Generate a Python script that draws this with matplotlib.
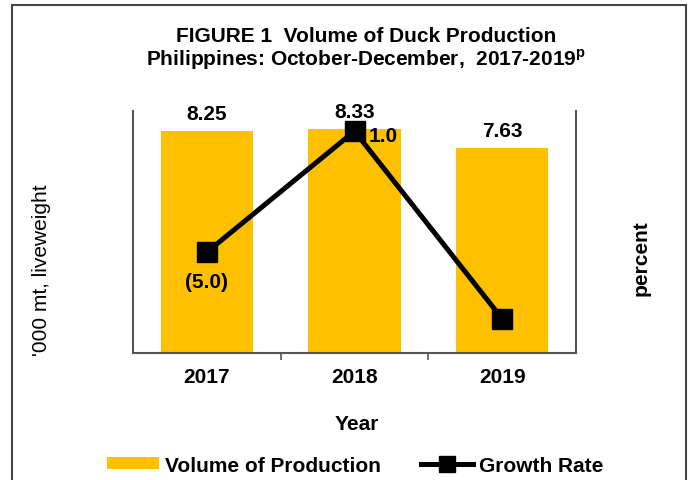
import matplotlib
matplotlib.use("Agg")
import matplotlib.pyplot as plt
from matplotlib.patches import Rectangle, Patch
from matplotlib.lines import Line2D

years = ["2017", "2018", "2019"]
volume = [8.25, 8.33, 7.63]
growth = [-5.0, 1.0, -8.3]
growth_labels = ["(5.0)", "1.0", ""]

plt.rcParams['font.family'] = ['Liberation Sans', 'DejaVu Sans']

fig = plt.figure(figsize=(6.9, 4.81), dpi=100)
W, H = 690, 481
ax = fig.add_axes([133 / W, 1 - 354 / H, (576 - 133) / W, (354 - 112) / H])
x = list(range(len(years)))
ax.bar(x, volume, width=0.625, color="#FFC000", zorder=1)
ax.set_xlim(-0.5, 2.5)
ax.set_ylim(0, 9)
ax.set_yticks([])
ax.set_xticks([0.5, 1.5])
ax.set_xticklabels([])
ax.tick_params(axis='x', direction='out', length=5, color='#555555', width=1.2)
ax.spines['top'].set_visible(False)
for s in ['left', 'right', 'bottom']:
    ax.spines[s].set_color('#555555')
    ax.spines[s].set_linewidth(1.5)

for xi, v in zip(x, volume):
    ax.annotate(f"{v:.2f}", (xi, v), xytext=(0, 6), textcoords='offset points',
                ha='center', va='bottom', fontsize=15, fontweight='bold')
for xi, y in zip(x, years):
    ax.annotate(y, (xi, 0), xytext=(0, -17), textcoords='offset points',
                ha='center', va='center', fontsize=15, fontweight='bold')

ax2 = ax.twinx()
ax2.set_ylim(-10, 2)
ax2.set_yticks([])
for s in ['top', 'left', 'right', 'bottom']:
    ax2.spines[s].set_visible(False)
ax2.plot(x, growth, color='black', linewidth=3.6, marker='s', markersize=15, zorder=3)
ax2.annotate(growth_labels[0], (x[0], growth[0]), xytext=(0, -14), textcoords='offset points',
             ha='center', va='top', fontsize=15, fontweight='bold')
ax2.annotate(growth_labels[1], (x[1], growth[1]), xytext=(10, -3), textcoords='offset points',
             ha='left', va='center', fontsize=15, fontweight='bold')

fig.text(366 / W, 1 - 37 / H, "FIGURE 1  Volume of Duck Production", ha='center', va='center',
         fontsize=15, fontweight='bold')
fig.text(366 / W, 1 - 60 / H, "Philippines: October-December,  2017-2019$^{\\mathregular{p}}$",
         ha='center', va='center', fontsize=15, fontweight='bold')

fig.text(42 / W, 1 - 270 / H, "'000 mt, liveweight", rotation=90, ha='center', va='center', fontsize=15)
fig.text(641 / W, 1 - 258 / H, "percent", rotation=90, ha='center', va='center', fontsize=15,
         fontweight='bold')
fig.text(357 / W, 1 - 425 / H, "Year", ha='center', va='center', fontsize=15, fontweight='bold')

handles = [Patch(facecolor="#FFC000", edgecolor='none'),
           Line2D([0], [0], color='black', linewidth=3.6, marker='s', markersize=12)]
fig.legend(handles, ["Volume of Production", "Growth Rate"], loc='center',
           bbox_to_anchor=(355 / W, 1 - 466 / H), ncol=2, frameon=False,
           prop={'size': 15, 'weight': 'bold'}, handlelength=2.5, handleheight=0.5,
           columnspacing=1.9, handletextpad=0.3)

fig.add_artist(Rectangle((12 / W, -0.05), (686 - 12) / W, 1 - 6 / H + 0.05,
                         transform=fig.transFigure, fill=False, edgecolor='#444444', linewidth=1.5))

fig.savefig("out.png", dpi=100)
